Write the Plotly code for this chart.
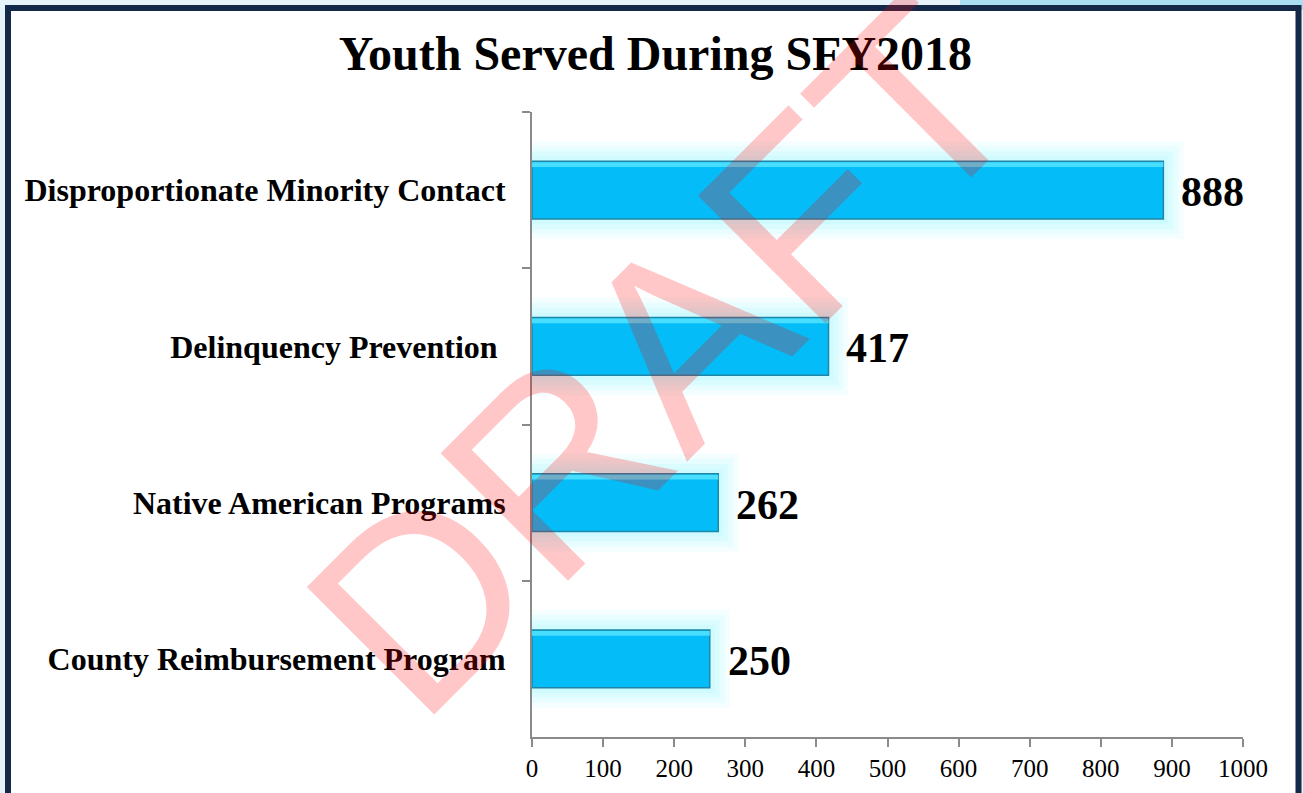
import plotly.graph_objects as go

# ---- data ----
categories = [
    "Disproportionate Minority Contact",
    "Delinquency Prevention\u00a0",
    "Native American Programs",
    "County Reimbursement Program",
]
youth_served = [888, 417, 262, 250]
title_text = "Youth Served During SFY2018"
x_tick_values = [0, 100, 200, 300, 400, 500, 600, 700, 800, 900, 1000]
watermark_text = "DRAFT"

# ---- layout constants (pixels) ----
W, H = 1303, 793
ML, MR, MT, MB = 532, 60, 112, 56
PW, PH = W - ML - MR, H - MT - MB


def px_x(p):
    return (p - ML) / PW


def px_y(p):
    return (H - MB - p) / PH


serif = "Liberation Serif, Times New Roman, serif"

fig = go.Figure()

# soft glow layers
for lw, a in [(40, 0.14), (30, 0.18), (20, 0.24), (10, 0.3)]:
    fig.add_trace(go.Bar(
        y=categories, x=youth_served, orientation="h", width=0.37,
        marker=dict(color=f"rgba(180,250,255,{a})",
                    line=dict(color=f"rgba(180,250,255,{a})", width=lw)),
        hoverinfo="skip", showlegend=False,
    ))
# main bars
fig.add_trace(go.Bar(
    y=categories, x=youth_served, orientation="h", width=0.37,
    marker=dict(color="#04bcf7", line=dict(color="#1f86a8", width=1.5)),
    showlegend=False,
))
# top highlight strip of each bar
fig.add_trace(go.Bar(
    y=categories, x=youth_served, orientation="h", width=0.03, offset=-0.178,
    marker=dict(color="rgba(80,225,255,0.9)", line=dict(width=0)),
    hoverinfo="skip", showlegend=False,
))

# value labels
for c, v in zip(categories, youth_served):
    fig.add_annotation(
        x=v, y=c, xref="x", yref="y", text=str(v), showarrow=False,
        xanchor="left", yanchor="middle", xshift=16, yshift=-2,
        font=dict(family=serif, size=42, color="black", weight="bold"),
    )

# watermark
fig.add_annotation(
    x=px_x(663), y=px_y(357), xref="paper", yref="paper",
    text=watermark_text, showarrow=False, textangle=-45,
    xanchor="center", yanchor="middle",
    font=dict(family="Liberation Sans, Arial, sans-serif", size=262,
              color="rgba(255,0,0,0.22)"),
)

# background strip and frame
fig.add_shape(type="rect", xref="paper", yref="paper",
              x0=px_x(960), x1=px_x(1303), y0=px_y(10), y1=px_y(0),
              fillcolor="#aadff3", line=dict(width=0), layer="below")
fig.add_shape(type="rect", xref="paper", yref="paper",
              x0=px_x(8), x1=px_x(1298.5), y0=px_y(815), y1=px_y(8),
              fillcolor="white", line=dict(color="#14294a", width=6),
              layer="below")

fig.update_layout(
    width=W, height=H,
    margin=dict(l=ML, r=MR, t=MT, b=MB, autoexpand=False),
    paper_bgcolor="#e6f3fb",
    plot_bgcolor="rgba(0,0,0,0)",
    barmode="overlay",
    title=dict(text=title_text, x=0.503, xanchor="center", y=1 - 53 / H,
               yanchor="middle", xref="container", yref="container",
               font=dict(family=serif, size=48, color="black", weight="bold")),
    xaxis=dict(range=[0, 1000], tickvals=x_tick_values, ticks="outside",
               ticklen=8, tickcolor="#8a8a8a", tickwidth=2,
               showline=True, linecolor="#8a8a8a", linewidth=2,
               showgrid=False, zeroline=False,
               tickfont=dict(family=serif, size=25, color="black")),
    yaxis=dict(autorange="reversed", type="category", tickson="boundaries",
               ticks="outside", ticklen=8, tickcolor="#8a8a8a", tickwidth=2,
               showline=True, linecolor="#8a8a8a", linewidth=2,
               showgrid=False, ticklabelstandoff=18,
               tickfont=dict(family=serif, size=32, color="black",
                             weight="bold")),
)

fig.write_html(
    "out.html",
    config={"displayModeBar": False},
    post_script="document.body.style.margin='0';document.body.style.overflow='hidden';",
)
